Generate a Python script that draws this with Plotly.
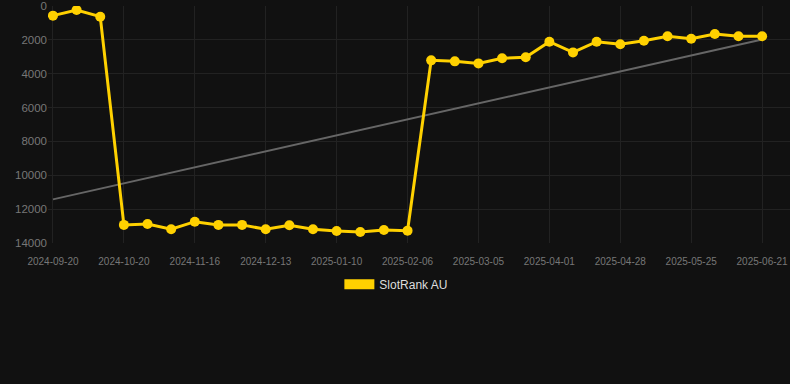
import numpy as np
import plotly.graph_objects as go

dates = ["2024-09-20", "2024-09-30", "2024-10-10", "2024-10-20", "2024-10-29", "2024-11-07",
         "2024-11-16", "2024-11-25", "2024-12-04", "2024-12-13", "2024-12-22", "2025-01-01",
         "2025-01-10", "2025-01-19", "2025-01-28", "2025-02-06", "2025-02-15", "2025-02-24",
         "2025-03-05", "2025-03-14", "2025-03-23", "2025-04-01", "2025-04-10", "2025-04-19",
         "2025-04-28", "2025-05-07", "2025-05-16", "2025-05-25", "2025-06-03", "2025-06-12",
         "2025-06-21"]
ranks = [570, 240, 630, 12930, 12880, 13190, 12740, 12930, 12930, 13190, 12950, 13190,
         13290, 13350, 13230, 13270, 3210, 3270, 3390, 3090, 3030, 2110, 2740, 2110,
         2260, 2050, 1790, 1930, 1650, 1790, 1790]
tick_labels = dates[::3]
y_ticks = [0, 2000, 4000, 6000, 8000, 10000, 12000, 14000]
y_tick_text = [str(v) for v in y_ticks]

idx = np.arange(len(ranks))
slope, intercept = np.polyfit(idx, ranks, 1)
trend = slope * idx + intercept

fig = go.Figure()
fig.add_trace(go.Scatter(
    x=dates, y=trend, mode="lines", line=dict(color="#666666", width=2),
    showlegend=False, hoverinfo="skip"))
fig.add_trace(go.Scatter(
    x=dates, y=ranks, mode="lines+markers", name="SlotRank AU",
    line=dict(color="#FFD100", width=3),
    marker=dict(color="#FFD100", size=10),
    showlegend=False))
fig.add_trace(go.Scatter(
    x=[None], y=[None], mode="lines", name="SlotRank AU",
    line=dict(color="#FFD100", width=12), showlegend=True))

fig.update_layout(
    width=790, height=384,
    margin=dict(l=48, r=0, t=6, b=141),
    paper_bgcolor="#111111", plot_bgcolor="#111111",
    font=dict(family="Liberation Sans, Arial, sans-serif", color="#888888"),
    showlegend=True,
    legend=dict(orientation="h", x=0.4695, xanchor="center", y=-0.113, yanchor="top",
                font=dict(size=12, color="#dddddd"), bgcolor="rgba(0,0,0,0)"),
    xaxis=dict(type="category", categoryorder="array", categoryarray=dates,
               tickmode="array", tickvals=tick_labels, ticktext=tick_labels,
               range=[-0.21, len(dates) - 1 + 1.18],
               showgrid=True, gridcolor="#222222", gridwidth=1,
               zeroline=False, showline=False,
               ticks="outside", ticklen=9, tickcolor="rgba(0,0,0,0)",
               tickfont=dict(size=10, color="#777777")),
    yaxis=dict(range=[14000, 0], tickmode="array", tickvals=y_ticks, ticktext=y_tick_text,
               showgrid=True, gridcolor="#222222", gridwidth=1,
               zeroline=False, showline=False, ticks="",
               tickfont=dict(size=11.5, color="#777777")),
)

fig.write_html("out.html")
